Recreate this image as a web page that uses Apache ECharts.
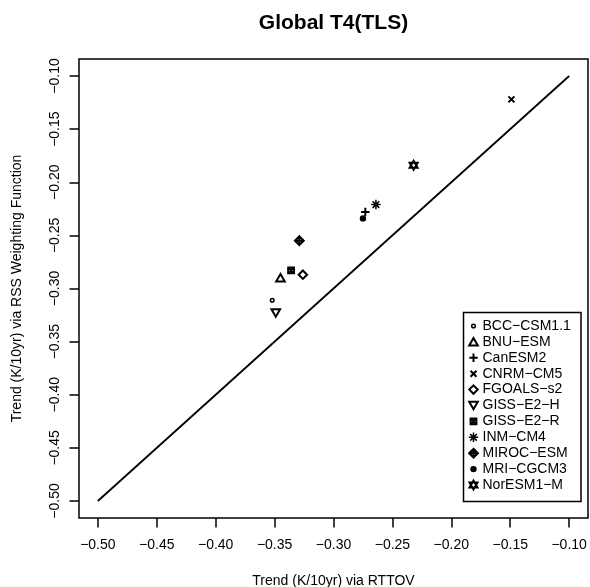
<!DOCTYPE html>
<html>
<head>
<meta charset="utf-8">
<title>Global T4(TLS)</title>
<script src="https://cdn.jsdelivr.net/npm/echarts@6/dist/echarts.min.js"></script>
<style>
  html, body { margin: 0; padding: 0; background: #fff; }
  #chart { width: 590px; height: 587px; }
</style>
</head>
<body>
<div id="chart"></div>
<script>
// Model names
const models = ['BCC-CSM1.1', 'BNU-ESM', 'CanESM2', 'CNRM-CM5', 'FGOALS-s2', 'GISS-E2-H',
                'GISS-E2-R', 'INM-CM4', 'MIROC-ESM', 'MRI-CGCM3', 'NorESM1-M'];
// Trend (K/10yr) computed via RTTOV
const rttovTrend = [-0.352, -0.345, -0.273, -0.149, -0.326, -0.349,
                    -0.336, -0.264, -0.329, -0.275, -0.232];
// Trend (K/10yr) computed via the RSS weighting function
const rssTrend = [-0.311, -0.290, -0.228, -0.122, -0.287, -0.323,
                  -0.283, -0.221, -0.255, -0.234, -0.184];
// 1:1 reference line end points
const oneToOne = [-0.5, -0.1];
// Tick positions for both axes
const xTicks = [-0.50, -0.45, -0.40, -0.35, -0.30, -0.25, -0.20, -0.15, -0.10];
const yTicks = [-0.50, -0.45, -0.40, -0.35, -0.30, -0.25, -0.20, -0.15, -0.10];

// Plotting symbols, each drawn in a 12x12 frame (the two leading moves fix the frame)
const F = 'path://M0,0 M12,12 ';
const symbols = [
  F + 'M4.2,6 A1.8,1.8 0 1 1 7.8,6 A1.8,1.8 0 1 1 4.2,6 Z',                 // open circle
  F + 'M6,2.2 L10.3,9.7 L1.7,9.7 Z',                                          // triangle up
  F + 'M6,1.8 L6,10.2 M1.8,6 L10.2,6',                                        // plus
  F + 'M3,3 L9,9 M9,3 L3,9',                                                  // cross
  F + 'M6,1.8 L10.2,6 L6,10.2 L1.8,6 Z',                                      // diamond
  F + 'M1.7,2.3 L10.3,2.3 L6,9.8 Z',                                          // triangle down
  F + 'M3.1,3.1 L8.9,3.1 L8.9,8.9 L3.1,8.9 Z M3.1,3.1 L8.9,8.9 M8.9,3.1 L3.1,8.9', // boxed cross
  F + 'M6,1.3 L6,10.7 M1.3,6 L10.7,6 M2.7,2.7 L9.3,9.3 M9.3,2.7 L2.7,9.3',   // asterisk
  F + 'M6,1.6 L10.4,6 L6,10.4 L1.6,6 Z M6,1.6 L6,10.4 M1.6,6 L10.4,6',       // diamond plus
  F + 'M3.8,6 A2.2,2.2 0 1 1 8.2,6 A2.2,2.2 0 1 1 3.8,6 Z M6,3.8 L6,8.2 M3.8,6 L8.2,6', // circle plus
  F + 'M6,1.5 L10,8.5 L2,8.5 Z M6,10.5 L10,3.5 L2,3.5 Z'                     // two triangles
];
const strokeW = [1.5, 2, 2, 2, 2, 2, 2, 1.5, 2, 2, 2];

const FONT = '"Liberation Sans", Arial, Helvetica, sans-serif';
const minus = s => String(s).replace(/-/g, '\u2212');
const fmt = v => minus(Number(v).toFixed(2));

const series = [{
  type: 'line',
  data: [[oneToOne[0], oneToOne[0]], [oneToOne[1], oneToOne[1]]],
  symbol: 'none',
  silent: true,
  lineStyle: { color: '#000', width: 1.8 },
  z: 2
}];
models.forEach((name, i) => {
  series.push({
    type: 'scatter',
    name: name,
    data: [[rttovTrend[i], rssTrend[i]]],
    symbol: symbols[i],
    symbolSize: 12,
    itemStyle: { color: 'rgba(0,0,0,0)', borderColor: '#000', borderWidth: strokeW[i], opacity: 1 },
    emphasis: { disabled: true },
    z: 3
  });
});

function axisCommon(ticks) {
  return {
    type: 'value',
    min: -0.516,
    max: -0.084,
    axisLine: { show: false },
    splitLine: { show: false },
    axisTick: { show: true, inside: false, length: 9.5, customValues: ticks,
                lineStyle: { color: '#000', width: 1.5 } },
    nameLocation: 'middle',
    nameTextStyle: { color: '#000', fontSize: 14, fontFamily: FONT }
  };
}

const chart = echarts.init(document.getElementById('chart'), null, { renderer: 'canvas' });
chart.setOption({
  animation: false,
  backgroundColor: '#fff',
  title: {
    text: 'Global T4(TLS)',
    left: 333.5,
    textAlign: 'center',
    top: 13,
    padding: 0,
    textStyle: { color: '#000', fontSize: 21, fontWeight: 'bold', fontFamily: FONT, lineHeight: 21 }
  },
  grid: {
    left: 79, right: 2, top: 59, bottom: 69,
    show: true, borderColor: '#000', borderWidth: 1.5, backgroundColor: '#fff',
    outerBoundsMode: 'none', containLabel: false
  },
  xAxis: Object.assign(axisCommon(xTicks), {
    name: 'Trend (K/10yr) via RTTOV',
    nameGap: 56,
    axisLabel: { customValues: xTicks, formatter: fmt, margin: 20.5, color: '#000',
                 fontSize: 14, fontFamily: FONT, lineHeight: 14 }
  }),
  yAxis: Object.assign(axisCommon(yTicks), {
    name: 'Trend (K/10yr) via RSS Weighting Function',
    nameGap: 55,
    axisLabel: { customValues: yTicks, formatter: fmt, margin: 17, rotate: 90, color: '#000',
                 fontSize: 14, fontFamily: FONT, lineHeight: 14 }
  }),
  legend: {
    orient: 'vertical',
    left: 466.5,
    top: 319,
    padding: 0,
    itemWidth: 12,
    itemHeight: 12,
    itemGap: 1.9,
    selectedMode: false,
    formatter: minus,
    data: models.map((name, i) => ({
      name: name,
      icon: symbols[i],
      itemStyle: { color: 'rgba(0,0,0,0)', borderColor: '#000', borderWidth: strokeW[i] }
    })),
    textStyle: { color: '#000', fontSize: 14, fontFamily: FONT, lineHeight: 14, padding: [0, 0, 0, -2] }
  },
  graphic: [{
    type: 'rect',
    shape: { x: 463.5, y: 312.5, width: 117.5, height: 189 },
    style: { fill: 'rgba(0,0,0,0)', stroke: '#000', lineWidth: 1.5 },
    silent: true,
    z: 10
  }],
  series: series
});
</script>
</body>
</html>
